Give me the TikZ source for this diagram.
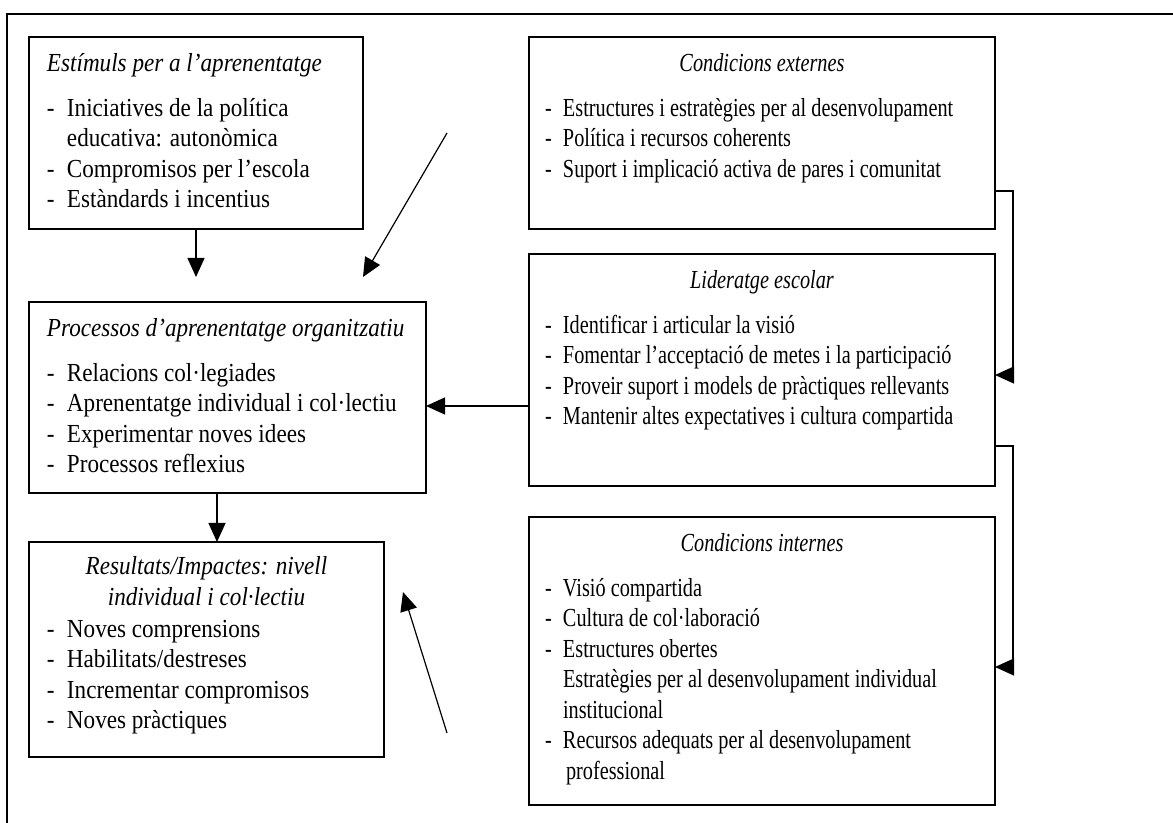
\documentclass[tikz,border=0pt]{standalone}
\usepackage{fontspec}
\setmainfont{Liberation Serif}[FakeStretch=0.78]
\newfontfamily\fontample{Liberation Serif}[FakeStretch=0.89]
\usetikzlibrary{positioning, arrows.meta}

\newlength\sagnat
\setlength\sagnat{9pt}
\newcommand{\guio}[1]{\par\makebox[\sagnat][l]{-}#1}
\newcommand{\segueix}[1]{\par\hspace*{\sagnat}#1}
\newcommand{\titol}[1]{\rule{0pt}{17.5pt}\mbox{\itshape #1}\par\vspace{7pt}}
\newcommand{\titolc}[1]{\rule{0pt}{17.5pt}\makebox[\linewidth]{\itshape #1}\par\vspace{7pt}}

\begin{document}
\begin{tikzpicture}[
    node distance=12.5pt,
    >={Triangle[length=9.5pt, width=8.5pt]},
    % --- estils ---
    caixa/.style 2 args={draw, rectangle, line width=0.8pt, inner xsep=9pt, inner ysep=0pt,
        outer sep=0pt, anchor=north west, font={\setlength\sagnat{9pt}},
        execute at begin node={\begin{minipage}[t][#2][t]{#1}\raggedright\fontsize{13pt}{15.25pt}\selectfont},
        execute at end node={\end{minipage}}},
    esquerra/.style={font={\fontample\setlength\sagnat{10pt}}},
    dreta/.style={inner xsep=8pt},
    fletxa/.style={->, line width=0.6pt},
    marc/.style={line width=0.6pt}
]
\useasboundingbox (-14.5pt,18.5pt) rectangle (572pt,-393pt);

% marc exterior
\draw[marc] (-11pt,-400pt) -- (-11pt,11.5pt) -- (580pt,11.5pt);

% ====== columna esquerra ======
\node[caixa={149pt}{96pt}, esquerra] (estimuls) at (0,0) {%
    \titol{Estímuls per a l’aprenentatge}
    \guio{Iniciatives de la política}
    \segueix{educativa: autonòmica}
    \guio{Compromisos per l’escola}
    \guio{Estàndards i incentius}};

\node[caixa={180.5pt}{95.5pt}, esquerra, below=36.5pt of estimuls.south west, anchor=north west] (processos) {%
    \titol{Processos d’aprenentatge organitzatiu}
    \guio{Relacions col·legiades}
    \guio{Aprenentatge individual i col·lectiu}
    \guio{Experimentar noves idees}
    \guio{Processos reflexius}};

\node[caixa={159.5pt}{107.5pt}, esquerra, below=24.5pt of processos.south west, anchor=north west] (resultats) {%
    \rule{0pt}{16.5pt}\makebox[\linewidth]{\itshape Resultats/Impactes: nivell}\par
    \makebox[\linewidth]{\itshape individual i col·lectiu}\par\vspace{0.75pt}
    \guio{Noves comprensions}
    \guio{Habilitats/destreses}
    \guio{Incrementar compromisos}
    \guio{Noves pràctiques}};

% ====== columna dreta ======
\node[caixa={217pt}{96pt}, dreta, right=83pt of estimuls.north east, anchor=north west] (externes) {%
    \titolc{Condicions externes}
    \guio{Estructures i estratègies per al desenvolupament}
    \guio{Política i recursos coherents}
    \guio{Suport i implicació activa de pares i comunitat}};

\node[caixa={217pt}{116pt}, dreta, below=of externes.south west, anchor=north west] (lideratge) {%
    \titolc{Lideratge escolar}
    \guio{Identificar i articular la visió}
    \guio{Fomentar l’acceptació de metes i la participació}
    \guio{Proveir suport i models de pràctiques rellevants}
    \guio{Mantenir altes expectatives i cultura compartida}};

\node[caixa={217pt}{144pt}, dreta, below=15.5pt of lideratge.south west, anchor=north west] (internes) {%
    \titolc{Condicions internes}
    \guio{Visió compartida}
    \guio{Cultura de col·laboració}
    \guio{Estructures obertes}
    \segueix{Estratègies per al desenvolupament individual}
    \segueix{institucional}
    \guio{Recursos adequats per al desenvolupament}
    \segueix{\hspace{1.5pt}professional}};

% punts lliures de les fletxes
\coordinate (sotaEst) at ([yshift=-24pt]estimuls.south);
\coordinate (sotaEst2) at ([yshift=-24pt]estimuls.south east);
\coordinate (iniExt) at ([xshift=-41pt]externes.west);
\coordinate (iniInt) at ([xshift=-41pt, yshift=-36pt]internes.west);
\coordinate (fiRes) at ([xshift=9.5pt, yshift=-25pt]resultats.north east);
\coordinate (surtLid) at ([yshift=-18pt]lideratge.west);

% connexions
\draw[fletxa] (estimuls.south) -- (sotaEst);
\draw[fletxa] (iniExt) -- (sotaEst2);
\draw[fletxa] (surtLid) -- (surtLid -| processos.east);
\draw[fletxa] ([xshift=-5.25pt]processos.south) -- ([xshift=5.25pt]resultats.north);
\draw[fletxa] (iniInt) -- (fiRes);

% connexions per la dreta
\draw[fletxa] ([yshift=-29pt]externes.east) -- ++(9pt,0) |- ([yshift=-2.5pt]lideratge.east);
\draw[fletxa] ([yshift=-38pt]lideratge.east) -- ++(9pt,0) |- ([yshift=-3pt]internes.east);

\end{tikzpicture}
\end{document}
